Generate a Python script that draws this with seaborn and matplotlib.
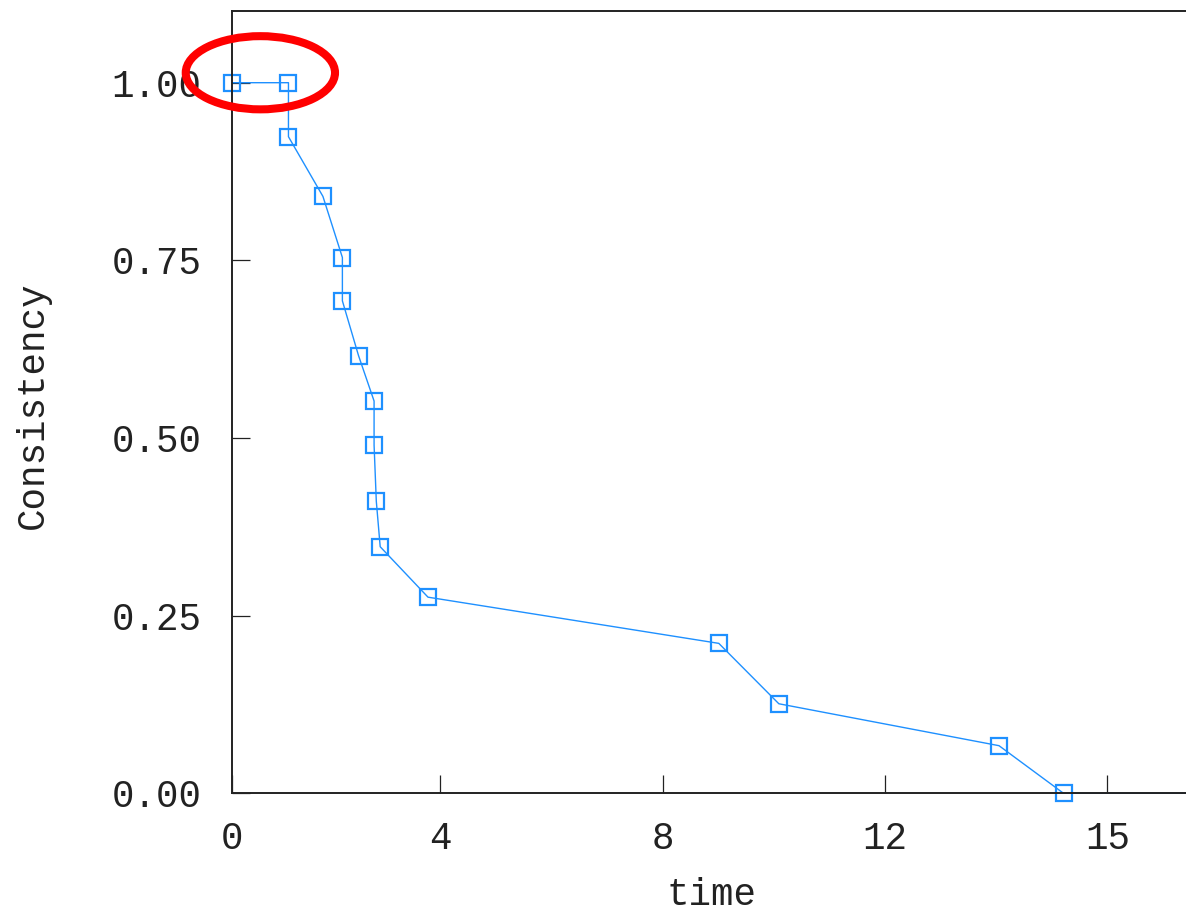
import numpy as np
import pandas as pd
import seaborn as sns
import matplotlib.pyplot as plt
from matplotlib.patches import Ellipse

# values
time = [0.00, 1.01, 1.01, 1.63, 1.98, 1.98, 2.27, 2.55, 2.55, 2.59, 2.66,
        3.52, 8.75, 9.83, 13.79, 14.95, 17.5]
consistency = [1.000, 1.000, 0.924, 0.840, 0.754, 0.693, 0.616, 0.552, 0.490,
               0.411, 0.347, 0.276, 0.211, 0.126, 0.067, 0.000, 0.000]
x_ticks = [0, 3.74, 7.74, 11.74, 15.74]
x_tick_labels = ['0', '4', '8', '12', '15']
y_ticks = [0.0, 0.25, 0.5, 0.75, 1.0]
y_tick_labels = ['0.00', '0.25', '0.50', '0.75', '1.00']

df = pd.DataFrame({'time': time, 'Consistency': consistency})

sns.set_style('ticks')
plt.rcParams['font.family'] = ['Liberation Mono', 'DejaVu Sans Mono']

W, H = 1186, 916
fig = plt.figure(figsize=(W / 100, H / 100), dpi=100)
# axes runs past the right edge of the figure, as in the reference
left_px, right_px, top_px, bottom_px = 232.3, 1250, 10.7, 793.3
ax = fig.add_axes([left_px / W, 1 - bottom_px / H,
                   (right_px - left_px) / W, (bottom_px - top_px) / H])

sns.lineplot(data=df, x='time', y='Consistency', ax=ax, sort=False,
             estimator=None, color='#1E90FF', linewidth=1.0,
             marker='s', markersize=11, markerfacecolor='none',
             markeredgecolor='#1E90FF', markeredgewidth=1.6)
for line in ax.lines:
    line.set_clip_on(False)

ax.set_xlim(0, (right_px - left_px) / 55.6)
ax.set_ylim(0, (bottom_px - top_px) / 710.6)
ax.set_xticks(x_ticks)
ax.set_xticklabels(x_tick_labels)
ax.set_yticks(y_ticks)
ax.set_yticklabels(y_tick_labels)
ax.tick_params(direction='in', length=13, width=0.9, color='#222222',
               labelsize=27, labelcolor='#222222', pad=20)
ax.tick_params(axis='y', pad=22)

for side in ['left', 'bottom', 'top']:
    ax.spines[side].set_linewidth(1.4)
    ax.spines[side].set_color('#222222')
ax.spines['right'].set_visible(False)

ax.set_xlabel('time', fontsize=27, color='#222222')
ax.set_ylabel('Consistency', fontsize=27, color='#222222')
ax.xaxis.set_label_coords(0.471, -0.107)
ax.yaxis.set_label_coords(-0.178, 0.496)

# red ring around the first two points
cx = np.mean(time[:2])
cy = consistency[0] + 0.014
ring = Ellipse((cx, cy), width=2.685, height=0.103, fill=False,
               edgecolor='red', linewidth=5.8, clip_on=False, zorder=5)
ax.add_patch(ring)

fig.savefig('out.png', dpi=100)
